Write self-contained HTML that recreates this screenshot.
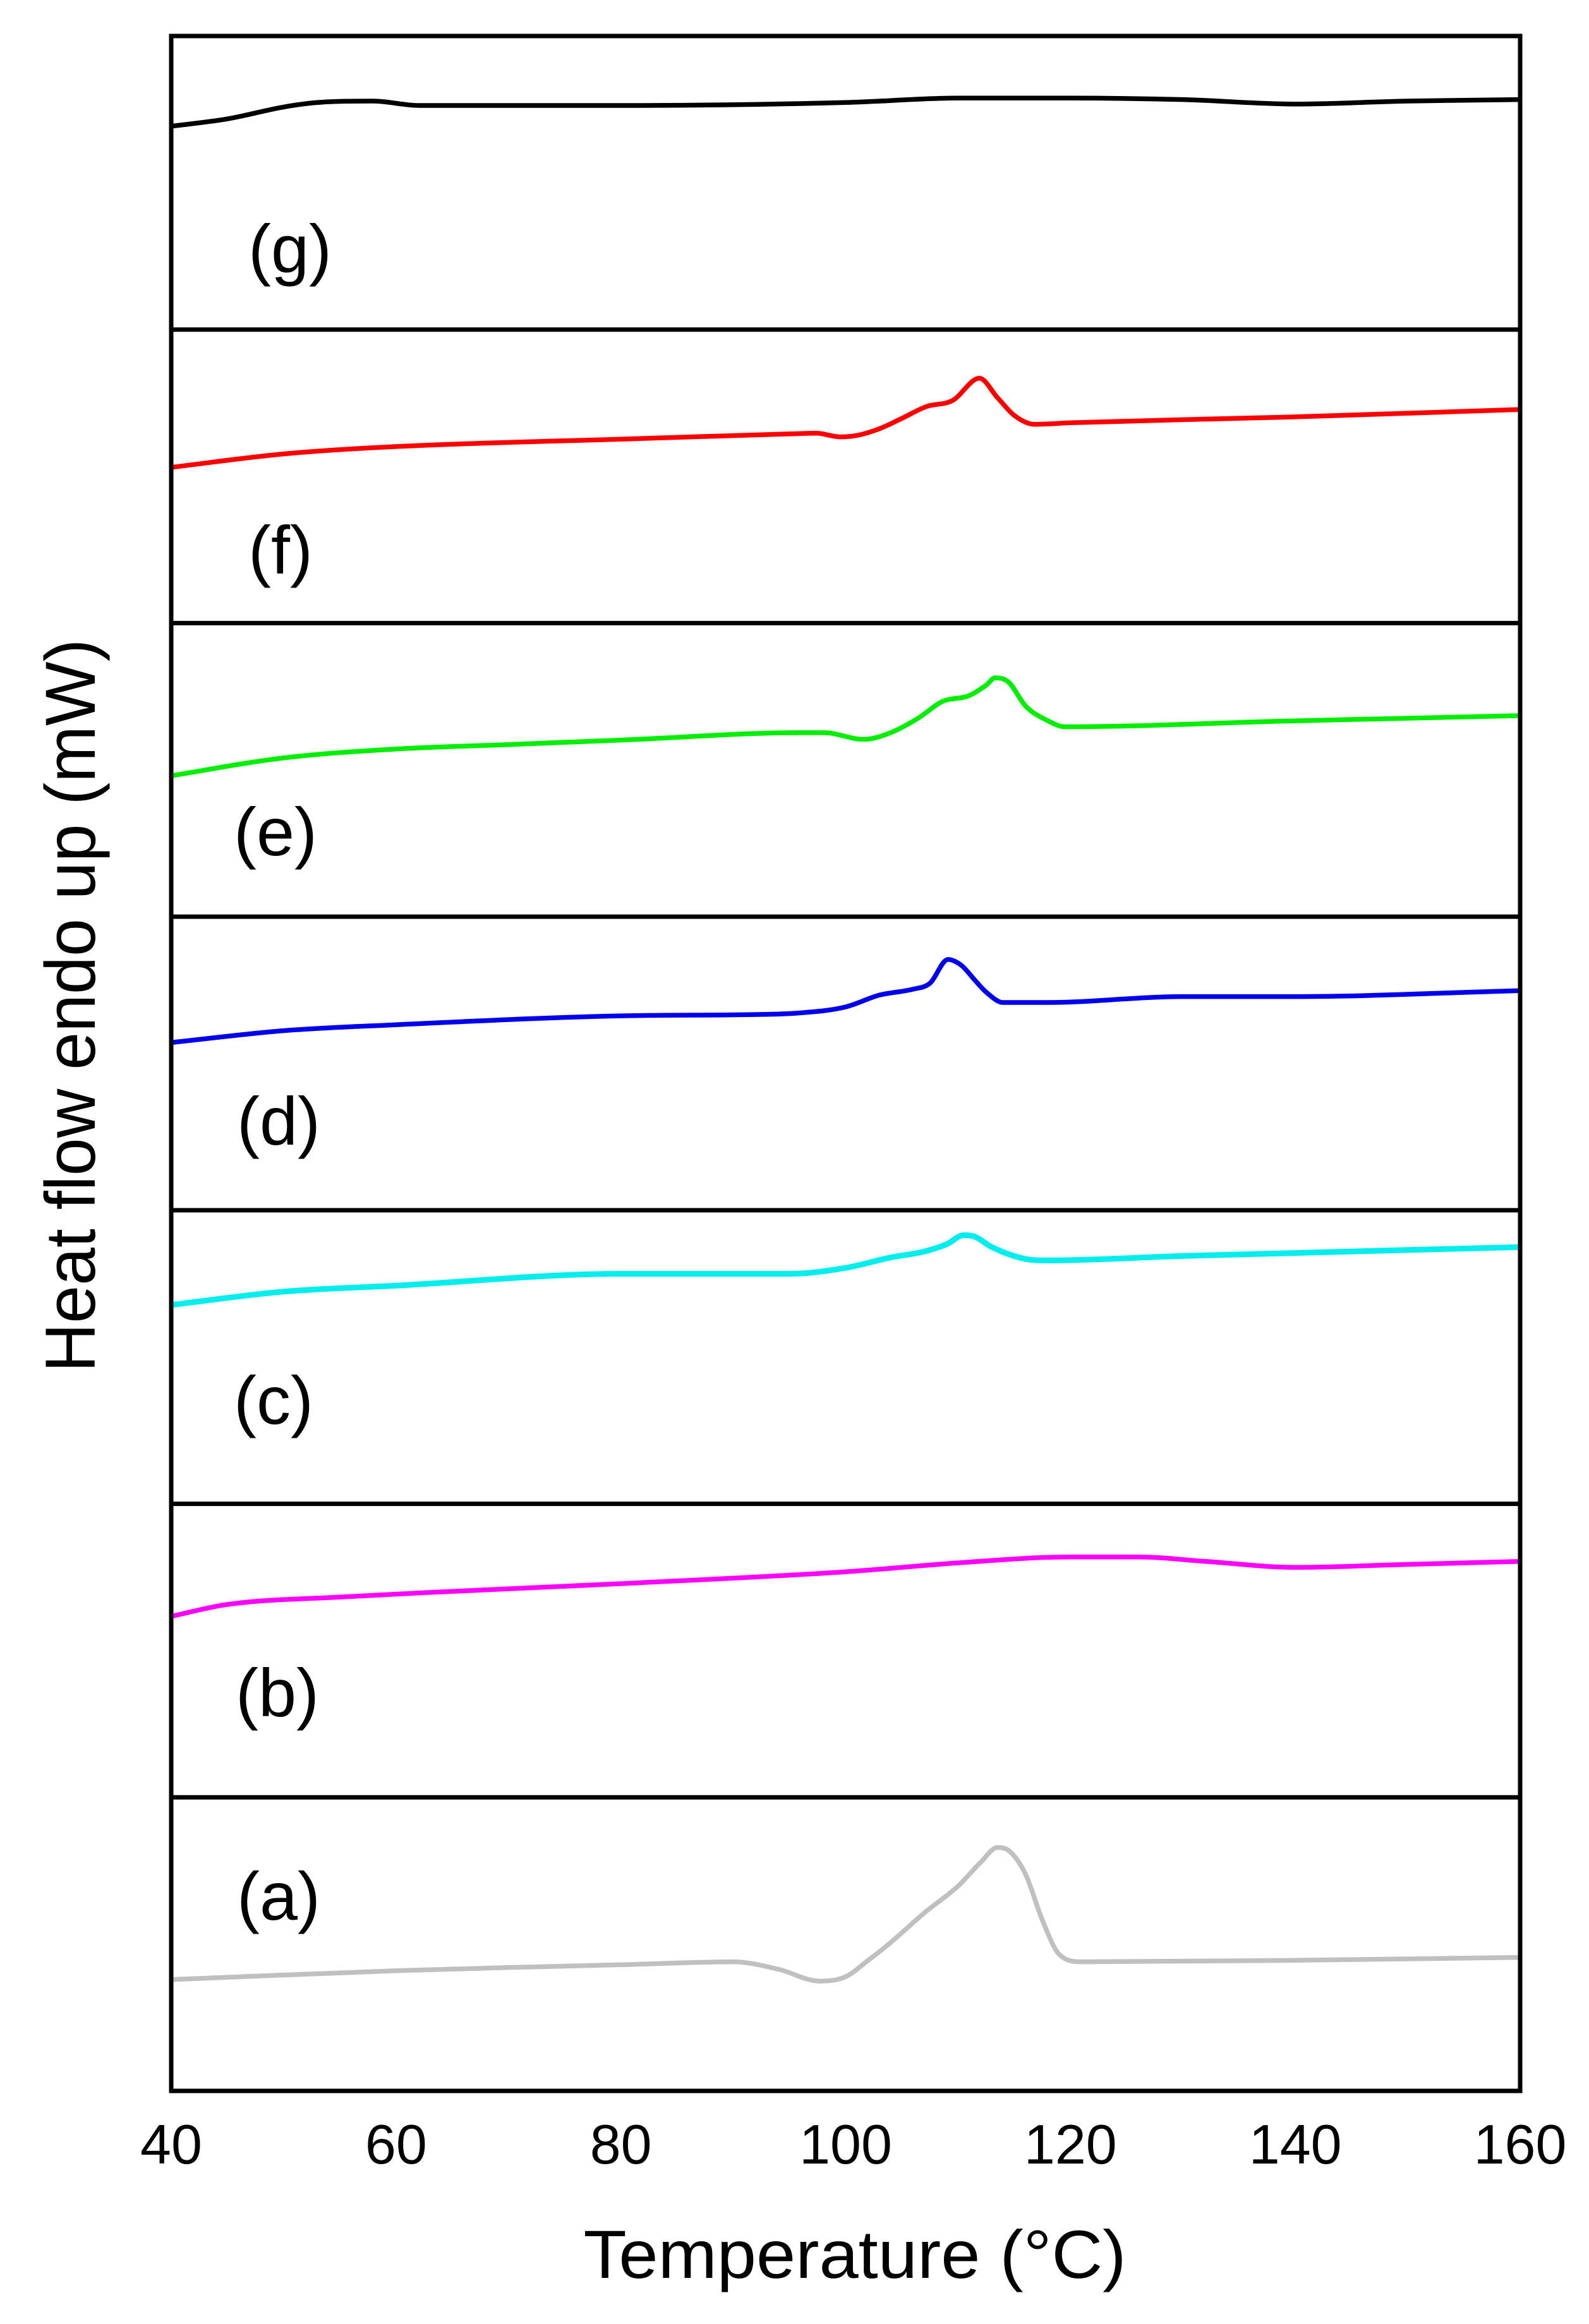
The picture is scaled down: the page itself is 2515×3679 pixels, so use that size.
<!DOCTYPE html>
<html><head><meta charset="utf-8"><style>
html,body{margin:0;padding:0;background:#fff;}
svg{display:block;}
text{font-family:"Liberation Sans",Arial,sans-serif;fill:#000;}
</style></head><body>
<svg id="chart" width="2515" height="3679" viewBox="0 0 2515 3679" xmlns="http://www.w3.org/2000/svg">
<g id="curves"></g>
<g id="frame"></g>
<g id="labels"></g>
<text transform="translate(150,1592) rotate(-90)" text-anchor="middle" font-size="112" textLength="1161" lengthAdjust="spacingAndGlyphs">Heat flow endo up (mW)</text>
<text x="1353" y="3606" text-anchor="middle" font-size="108" textLength="859" lengthAdjust="spacingAndGlyphs">Temperature (°C)</text>
</svg>
<script>
// x-axis
const xTicks = [40, 60, 80, 100, 120, 140, 160];
const xTickLabels = ["40", "60", "80", "100", "120", "140", "160"];
// panel order top to bottom
const panelNames = ["g", "f", "e", "d", "c", "b", "a"];
const panelColors = ["#000000", "#ff0000", "#00ee00", "#0000ee", "#00eeee", "#ff00ff", "#c0c0c0"];
// signal values (arbitrary units, height above panel bottom)
const tG = [40,45,50,53,58,62,80,100,110,120,130,140,150,160];
const vG = [137,142,150,153,154,151,151,153,156,156,155,152,154,155];
const tF = [40,50,60,80,95,97.4,99.5,101,103,105,107.2,109.5,111.9,113.5,115,116.8,120,140,160];
const vF = [105,114,119,124,127.5,128,125.5,126.5,131,138,146,150,165,152,140,134,135,139,144];
const tE = [40,50,60,70,80,96,98.1,101.6,104,106.5,108.6,111,112.5,113.3,114.5,116,118,119.5,140,160];
const vE = [95,107,113,116,119,124,124,119.5,124,134,145,149,156,161,158,142,132,128,132,135.5];
const tD = [40,50,60,80,93,96,100,103,106,107.5,109.1,110.3,111.5,112.5,114,118,130,140,160];
const vD = [113,121,125,131,132,133,137,145,149,153,169,165,155,147,140,140,144,144,148];
const tC = [40,50,60,80,90,95,100,104,107,109,110.5,111.5,113,116,118,130,160];
const vC = [134,143,147,155,155,155,159,166,170,175,181,180,173,165,164,167,173];
const tB = [40,45,55,80,100,110,120,126,132,140,150,160];
const vB = [122,130,135,144,152,158,162,162,159,155,157,159];
const tA = [40,60,80,90,94,97.7,100,102,104,107,110,112,113.5,114.5,116,117.5,119,121,140,160];
const vA = [75,81,85,87,82,74,77,88,100,120,138,154,164,162,146,115,92,87,88,90];

const allT = [tG,tF,tE,tD,tC,tB,tA];
const allV = [vG,vF,vE,vD,vC,vB,vA];

const X0 = 271, X1 = 2406, Y0 = 57, Y1 = 3310;
const PH = (Y1 - Y0) / 7;
const VS = 2.349; // px per value unit
function xScale(t){ return X0 + (t - 40) / 120 * (X1 - X0); }
function panelTop(i){ return Y0 + i * PH; }
function yScale(i, v){ return panelTop(i) + PH - v * VS; }

const NS = "http://www.w3.org/2000/svg";
const curves = document.getElementById('curves');
const frame = document.getElementById('frame');
const labels = document.getElementById('labels');

// monotone cubic (Fritsch-Carlson) interpolation sampled densely
function monotonePath(xs, ys){
  const n = xs.length, d = [], m = new Array(n);
  for (let k = 0; k < n-1; k++) d.push((ys[k+1]-ys[k])/(xs[k+1]-xs[k]));
  m[0] = d[0]; m[n-1] = d[n-2];
  for (let k = 1; k < n-1; k++) m[k] = (d[k-1]*d[k] <= 0) ? 0 : (d[k-1]+d[k])/2;
  for (let k = 0; k < n-1; k++){
    if (d[k] === 0){ m[k]=0; m[k+1]=0; continue; }
    const a = m[k]/d[k], b = m[k+1]/d[k], s = a*a+b*b;
    if (s > 9){ const tt = 3/Math.sqrt(s); m[k]=tt*a*d[k]; m[k+1]=tt*b*d[k]; }
  }
  let path = "M" + xs[0].toFixed(1) + "," + ys[0].toFixed(1);
  for (let k = 0; k < n-1; k++){
    const h = xs[k+1]-xs[k];
    const c1x = xs[k] + h/3, c1y = ys[k] + m[k]*h/3;
    const c2x = xs[k+1] - h/3, c2y = ys[k+1] - m[k+1]*h/3;
    path += " C"+c1x.toFixed(1)+","+c1y.toFixed(1)+" "+c2x.toFixed(1)+","+c2y.toFixed(1)+" "+xs[k+1].toFixed(1)+","+ys[k+1].toFixed(1);
  }
  return path;
}

const labelCY = [402, 879, 1325, 1783, 2225, 2688, 3010];
const labelX = [393, 393, 370, 375, 370, 373, 375];

for (let i = 0; i < 7; i++){
  const xs = allT[i].map(t => xScale(t));
  const ys = allV[i].map(v => yScale(i, v));
  const p = document.createElementNS(NS, 'path');
  p.setAttribute('d', monotonePath(xs, ys));
  p.setAttribute('fill', 'none');
  p.setAttribute('stroke', panelColors[i]);
  p.setAttribute('stroke-width', i === 4 ? 9 : 7.5);
  p.setAttribute('stroke-linejoin', 'round');
  
  
  curves.appendChild(p);

  const tx = document.createElementNS(NS, 'text');
  tx.setAttribute('x', labelX[i]);
  tx.setAttribute('y', labelCY[i] + 29);
  tx.setAttribute('font-size', '108');
  tx.textContent = '(' + panelNames[i] + ')';
  
  
  labels.appendChild(tx);
}

// frame and dividers
const r = document.createElementNS(NS, 'rect');
r.setAttribute('x', X0); r.setAttribute('y', Y0);
r.setAttribute('width', X1 - X0); r.setAttribute('height', Y1 - Y0);
r.setAttribute('fill', 'none'); r.setAttribute('stroke', '#000'); r.setAttribute('stroke-width', 7);


frame.appendChild(r);
for (let i = 1; i < 7; i++){
  const l = document.createElementNS(NS, 'line');
  l.setAttribute('x1', X0); l.setAttribute('x2', X1);
  l.setAttribute('y1', panelTop(i)); l.setAttribute('y2', panelTop(i));
  l.setAttribute('stroke', '#000'); l.setAttribute('stroke-width', 7);
  
  
  frame.appendChild(l);
}
// tick labels
for (let k = 0; k < xTicks.length; k++){
  const tx = document.createElementNS(NS, 'text');
  tx.setAttribute('x', xScale(xTicks[k]));
  tx.setAttribute('y', 3425);
  tx.setAttribute('font-size', '88');
  tx.setAttribute('text-anchor', 'middle');
  tx.textContent = xTickLabels[k];
  
  
  labels.appendChild(tx);
}
</script>
</body></html>
